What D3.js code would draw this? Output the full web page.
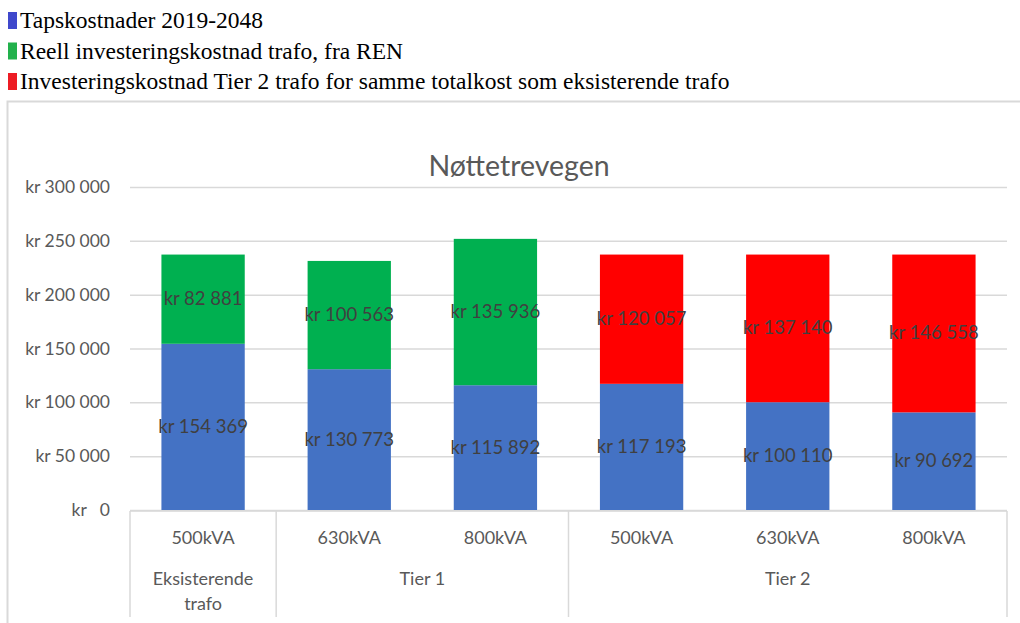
<!DOCTYPE html>
<html><head><meta charset="utf-8">
<script src="https://cdn.jsdelivr.net/npm/d3@7"></script>
<style>body{margin:0;background:#fff}svg{display:block}</style>
</head><body>
<svg id="c" width="1020" height="623"></svg>
<script>
const categories = ["500kVA","630kVA","800kVA","500kVA","630kVA","800kVA"];
const groups = [
  {label:["Eksisterende","trafo"], start:0, end:1},
  {label:["Tier 1"], start:1, end:3},
  {label:["Tier 2"], start:3, end:6}
];
const tapskostnader = [154369,130773,115892,117193,100110,90692];
const reellInvestering = [82881,100563,135936,0,0,0];
const tier2Investering = [0,0,0,120057,137140,146558];
const yTicks = [0,50000,100000,150000,200000,250000,300000];
const legendItems = [
  {text:"Tapskostnader 2019-2048", color:"#3F48CC"},
  {text:"Reell investeringskostnad trafo, fra REN", color:"#22B14C"},
  {text:"Investeringskostnad Tier 2 trafo for samme totalkost som eksisterende trafo", color:"#ED1C24"}
];
const seriesColors = ["#4472C4","#00B050","#FF0000"];
const title = "Nøttetrevegen";

const svg = d3.select("#c");
const font = "Lato, 'Open Sans', sans-serif";

// legend
legendItems.forEach((d,i)=>{
  const y = 12 + i*30.5;
  svg.append("rect").attr("x",8).attr("y",y).attr("width",9).attr("height",17).attr("fill",d.color);
  svg.append("text").attr("x",20).attr("y",y+16).attr("font-family","'Liberation Serif','Times New Roman',serif")
    .attr("font-size",23.5).attr("fill","#000").text(d.text);
});

// frame
svg.append("path").attr("d","M7.5,623 L7.5,101.5 L1020,101.5").attr("fill","none").attr("stroke","#d9d9d9").attr("stroke-width",2);

const x0 = 130, x1 = 1007;
const y = d3.scaleLinear().domain([0,300000]).range([510,187]);
const x = d3.scaleBand().domain(d3.range(categories.length)).range([x0,x1]).paddingInner(0.43).paddingOuter(0.215);
const xc = d3.scaleBand().domain(d3.range(categories.length)).range([x0,x1]);

// title
svg.append("text").attr("x",519).attr("y",176).attr("text-anchor","middle").attr("font-family",font)
  .attr("font-size",28.5).attr("fill","#595959").text(title);

// grid + y labels
const yAxis = d3.axisLeft(y).tickValues(yTicks).tickSize(-(x1-x0)).tickPadding(20)
  .tickFormat(v => "kr " + (v===0 ? "\u00A0\u00A00" : d3.format(",")(v).replace(/,/g," ")));
const ga = svg.append("g").attr("transform",`translate(${x0},0)`).call(yAxis);
ga.select(".domain").remove();
ga.selectAll(".tick line").attr("stroke","#d9d9d9").attr("stroke-width",1.5);
ga.selectAll(".tick text").attr("font-family",font).attr("font-size",17.5).attr("fill","#595959");

// stacked bars
const rows = categories.map((c,i)=>({i, a:tapskostnader[i], b:reellInvestering[i], c:tier2Investering[i]}));
const stack = d3.stack().keys(["a","b","c"])(rows);
stack.forEach((s,k)=>{
  const g = svg.append("g").attr("fill",seriesColors[k]);
  s.forEach((d,i)=>{
    if (d[1]-d[0] <= 0) return;
    g.append("rect").attr("x",x(i)).attr("width",x.bandwidth()).attr("y",y(d[1])).attr("height",y(d[0])-y(d[1]));
    svg.append("text").attr("x",x(i)+x.bandwidth()/2).attr("y",(y(d[0])+y(d[1]))/2+6)
      .attr("text-anchor","middle").attr("font-family",font).attr("font-size",18.5).attr("fill","#404040")
      .text("kr " + d3.format(",")(d[1]-d[0]).replace(/,/g," "));
  });
});

// category axis
const axG = svg.append("g").attr("stroke","#d9d9d9").attr("stroke-width",1.5);
axG.append("line").attr("x1",x0).attr("x2",x1).attr("y1",511).attr("y2",511);
const bounds = [0,1,3,6];
bounds.forEach(b=>{
  const xx = b===6 ? x1 : xc(b);
  axG.append("line").attr("x1",xx).attr("x2",xx).attr("y1",511).attr("y2",617);
});
categories.forEach((c,i)=>{
  svg.append("text").attr("x",xc(i)+xc.bandwidth()/2).attr("y",544).attr("text-anchor","middle")
    .attr("font-family",font).attr("font-size",18).attr("fill","#595959").text(c);
});
groups.forEach(g=>{
  const cx = (xc(g.start) + (g.end===6 ? x1 : xc(g.end)))/2;
  g.label.forEach((t,j)=>{
    svg.append("text").attr("x",cx).attr("y",585+j*25).attr("text-anchor","middle")
      .attr("font-family",font).attr("font-size",18).attr("fill","#595959").text(t);
  });
});
</script>
</body></html>
